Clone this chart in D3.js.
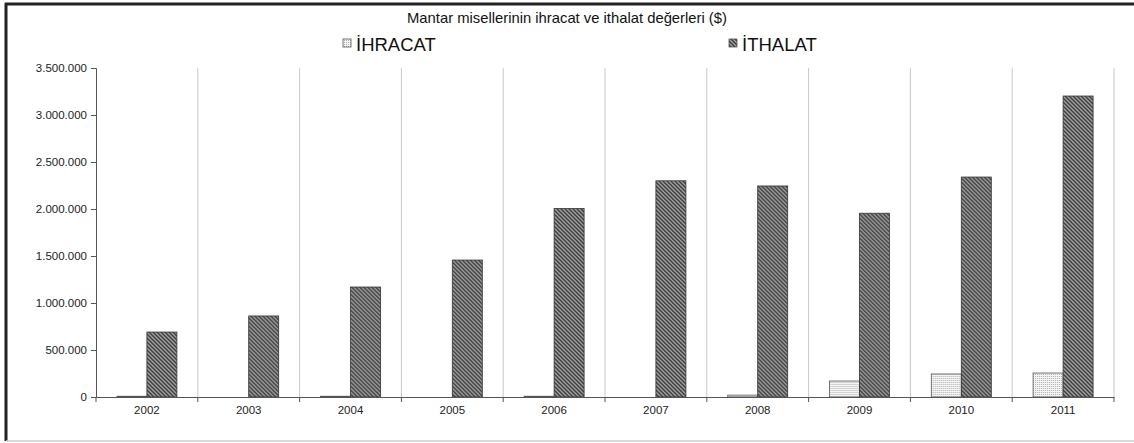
<!doctype html>
<html lang="tr">
<head>
<meta charset="UTF-8">
<title>Mantar misellerinin ihracat ve ithalat değerleri</title>
<style>
    body { margin: 0; background: #fff; }
    svg { display: block; font-family: "Liberation Sans", Arial, sans-serif; }
</style>
</head>
<body>
<svg width="1134" height="443"></svg>
<script src="https://cdn.jsdelivr.net/npm/d3@7"></script>
<script>
    const years = ["2002", "2003", "2004", "2005", "2006", "2007", "2008", "2009", "2010", "2011"];
    const ihracat = [8000, 0, 8000, 0, 8000, 0, 20000, 170000, 245000, 255000];
    const ithalat = [691000, 862000, 1170000, 1457000, 2005000, 2300000, 2245000, 1955000, 2340000, 3202000];
    const seriesNames = ["İHRACAT", "İTHALAT"];
    const yTicks = [0, 500000, 1000000, 1500000, 2000000, 2500000, 3000000, 3500000];

    const svg = d3.select("svg");
    const margin = {top: 68, right: 20, bottom: 46, left: 96};
    const width = 1114 - margin.left;
    const height = 397 - margin.top;

    // patterns
    const defs = svg.append("defs");
    const pDot = defs.append("pattern").attr("id", "dots")
        .attr("width", 2).attr("height", 2).attr("patternUnits", "userSpaceOnUse");
    pDot.append("rect").attr("width", 2).attr("height", 2).attr("fill", "#f4f4f4");
    pDot.append("rect").attr("width", 1).attr("height", 1).attr("fill", "#b0b0b0");

    const pHatch = defs.append("pattern").attr("id", "hatch")
        .attr("width", 4).attr("height", 4).attr("patternUnits", "userSpaceOnUse");
    pHatch.append("rect").attr("width", 4).attr("height", 4).attr("fill", "#a8a8a8");
    pHatch.append("path").attr("d", "M-1,-1 L5,5 M-3,1 L1,5 M1,-3 L5,1")
        .attr("stroke", "#3a3a3a").attr("stroke-width", 1.5);

    // frame
    svg.append("line").attr("x1", 5).attr("x2", 1134).attr("y1", 4).attr("y2", 4)
        .attr("stroke", "#222").attr("stroke-width", 3);
    svg.append("line").attr("x1", 6).attr("x2", 6).attr("y1", 3).attr("y2", 441)
        .attr("stroke", "#222").attr("stroke-width", 3);
    svg.append("line").attr("x1", 6).attr("x2", 1134).attr("y1", 441).attr("y2", 441)
        .attr("stroke", "#ccc").attr("stroke-width", 1.5);

    const g = svg.append("g").attr("transform", "translate(" + margin.left + "," + margin.top + ")");

    const x = d3.scaleBand().domain(years).range([0, width]);
    const x1 = d3.scaleBand().domain(seriesNames).range([0, 60]);
    const y = d3.scaleLinear().domain([0, 3500000]).range([height, 0]);

    // vertical grid lines at category boundaries
    g.append("g").selectAll("line")
        .data(years)
        .enter().append("line")
        .attr("x1", d => x(d) + x.bandwidth()).attr("x2", d => x(d) + x.bandwidth())
        .attr("y1", 0).attr("y2", height)
        .attr("stroke", "#c8c8c8");

    const fmt = v => d3.format(",")(v).replace(/,/g, ".");

    const yAxis = g.append("g")
        .call(d3.axisLeft(y).tickValues(yTicks).tickFormat(fmt).tickSizeOuter(0).tickSize(5));
    yAxis.select(".domain").attr("stroke", "#555");
    yAxis.selectAll(".tick line").attr("stroke", "#555");
    yAxis.selectAll("text").attr("font-size", 11.5).attr("fill", "#222").attr("x", -9)
        .attr("font-family", "'Liberation Sans', Arial, sans-serif");

    // bars
    const off = (x.bandwidth() - 60) / 2;
    const groups = g.append("g").selectAll("g")
        .data(years)
        .enter().append("g")
        .attr("transform", d => "translate(" + (x(d) + off) + ",0)");

    groups.append("rect")
        .attr("x", x1("İHRACAT"))
        .attr("width", x1.bandwidth())
        .attr("y", (d, i) => y(ihracat[i]))
        .attr("height", (d, i) => height - y(ihracat[i]))
        .attr("fill", "url(#dots)")
        .attr("stroke", "#555")
        .attr("stroke-width", (d, i) => ihracat[i] > 0 ? 0.8 : 0);

    groups.append("rect")
        .attr("x", x1("İTHALAT"))
        .attr("width", x1.bandwidth())
        .attr("y", (d, i) => y(ithalat[i]))
        .attr("height", (d, i) => height - y(ithalat[i]))
        .attr("fill", "url(#hatch)")
        .attr("stroke", "#333")
        .attr("stroke-width", 0.8);

    // x axis
    const xAxis = g.append("g")
        .attr("transform", "translate(0," + height + ")")
        .call(d3.axisBottom(x).tickSize(0).tickSizeOuter(0));
    xAxis.select(".domain").attr("stroke", "#555");
    xAxis.selectAll("text").attr("font-size", 11.5).attr("fill", "#222").attr("dy", "1.25em")
        .attr("font-family", "'Liberation Sans', Arial, sans-serif");
    xAxis.append("g").selectAll("line")
        .data([years[0]].concat(years))
        .enter().append("line")
        .attr("x1", (d, i) => i === 0 ? 0 : x(d) + x.bandwidth())
        .attr("x2", (d, i) => i === 0 ? 0 : x(d) + x.bandwidth())
        .attr("y1", 0).attr("y2", 5)
        .attr("stroke", "#555");

    // title
    svg.append("text")
        .attr("x", 567).attr("y", 23)
        .attr("text-anchor", "middle")
        .attr("font-size", 14.8)
        .attr("fill", "#111")
        .text("Mantar misellerinin ihracat ve ithalat değerleri ($)");

    // legend
    const legend = svg.append("g");
    const legendX = [343, 729];
    seriesNames.forEach((name, i) => {
        legend.append("rect")
            .attr("x", legendX[i]).attr("y", 39).attr("width", 8).attr("height", 8)
            .attr("fill", i === 0 ? "url(#dots)" : "url(#hatch)")
            .attr("stroke", "#555").attr("stroke-width", 0.8);
        legend.append("text")
            .attr("x", legendX[i] + 13).attr("y", 51)
            .attr("font-size", 18.5)
            .attr("fill", "#111")
            .text(name);
    });
</script>
</body>
</html>
